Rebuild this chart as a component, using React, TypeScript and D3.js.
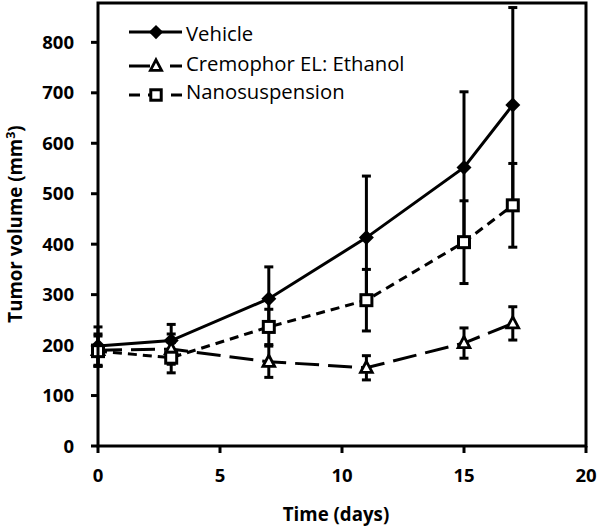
import React from "react";
import * as d3 from "d3";

const days = [0, 3, 7, 11, 15, 17];
const vehicle = [198, 209, 292, 413, 552, 676];
const vehicleErr = [38, 32, 63, 122, 150, 193];
const cremophor = [190, 192, 167, 155, 204, 243];
const cremophorErr = [32, 30, 31, 24, 30, 33];
const nano = [188, 175, 236, 289, 404, 477];
const nanoErr = [30, 30, 35, 61, 82, 83];
const xTicks = [0, 5, 10, 15, 20];
const yTicks = [0, 100, 200, 300, 400, 500, 600, 700, 800];
const seriesNames = ["Vehicle", "Cremophor EL: Ethanol", "Nanosuspension"];

const W = 600, H = 527;
const left = 98, right = 586, top = 3, bottom = 446;
const x = d3.scaleLinear().domain([0, 20]).range([left, right]);
const y = d3.scaleLinear().domain([0, 878]).range([bottom, top]);

const series = [
  { name: seriesNames[0], vals: vehicle, err: vehicleErr, dash: "none", marker: "diamond" },
  { name: seriesNames[1], vals: cremophor, err: cremophorErr, dash: "24,9", marker: "triangle" },
  { name: seriesNames[2], vals: nano, err: nanoErr, dash: "9,6", marker: "square" },
];

const font = "'Open Sans', sans-serif";

function Marker({ type, cx, cy, k = 1 }: { type: string; cx: number; cy: number; k?: number }) {
  if (type === "diamond") {
    const s = 7.5 * k;
    return <path d={`M${cx},${cy - s}L${cx + s},${cy}L${cx},${cy + s}L${cx - s},${cy}Z`} fill="#000" />;
  }
  if (type === "triangle") {
    const s = 6.5 * k;
    return <path d={`M${cx},${cy - s}L${cx + s * 0.9},${cy + s * 0.7}L${cx - s * 0.9},${cy + s * 0.7}Z`} fill="#fff" stroke="#000" strokeWidth={2.8} strokeLinejoin="miter" />;
  }
  const s = 5.5 * k;
  return <rect x={cx - s} y={cy - s} width={2 * s} height={2 * s} fill="#fff" stroke="#000" strokeWidth={3} />;
}

export default function App() {
  const line = d3.line<number>().x((_, i) => x(days[i])).y((v) => y(v));
  return (
    <svg width={W} height={H} style={{ position: "absolute", left: 0, top: 0, background: "#fff" }}>
      <rect x={0} y={0} width={W} height={H} fill="#fff" />
      {series.map((s, si) => (
        <g key={"e" + si}>
          {s.vals.map((v, i) => {
            const cx = x(days[i]);
            const y1 = y(v + s.err[i]);
            const y2 = y(v - s.err[i]);
            return (
              <g key={i} stroke="#000" strokeWidth={3}>
                <line x1={cx} x2={cx} y1={y1} y2={y2} />
                <line x1={cx - 4.5} x2={cx + 4.5} y1={y1} y2={y1} />
                <line x1={cx - 4.5} x2={cx + 4.5} y1={y2} y2={y2} />
              </g>
            );
          })}
        </g>
      ))}
      {series.map((s, si) => (
        <path key={"l" + si} d={line(s.vals) || ""} fill="none" stroke="#000" strokeWidth={3} strokeDasharray={s.dash} />
      ))}
      {series.map((s, si) => (
        <g key={"m" + si}>
          {s.vals.map((v, i) => (
            <Marker key={i} type={s.marker} cx={x(days[i])} cy={y(v)} />
          ))}
        </g>
      ))}
      <rect x={left} y={top} width={right - left} height={bottom - top} fill="none" stroke="#000" strokeWidth={3} />
      {yTicks.map((t) => (
        <g key={"y" + t}>
          <line x1={left - 7} x2={left} y1={y(t)} y2={y(t)} stroke="#000" strokeWidth={3} />
          <text x={74} y={y(t) + 6.6} textAnchor="end" fontFamily={font} fontWeight="bold" fontSize={18.5}>
            {t}
          </text>
        </g>
      ))}
      {xTicks.map((t) => (
        <g key={"x" + t}>
          <line x1={x(t)} x2={x(t)} y1={bottom} y2={bottom + 7} stroke="#000" strokeWidth={3} />
          <text x={x(t)} y={482} textAnchor="middle" fontFamily={font} fontWeight="bold" fontSize={18.5}>
            {t}
          </text>
        </g>
      ))}
      <text x={336} y={521} textAnchor="middle" fontFamily={font} fontWeight="bold" fontSize={18.7}>
        Time (days)
      </text>
      <text transform={`translate(22,${224}) rotate(-90)`} textAnchor="middle" fontFamily={font} fontWeight="bold" fontSize={18.7}>
        Tumor volume (mm<tspan dy={-7} fontSize={12.5}>3</tspan><tspan dy={7}>)</tspan>
      </text>
      {series.map((s, si) => {
        const ly = [32, 66, 95][si];
        const by = [40.5, 71, 99][si];
        return (
          <g key={"lg" + si}>
            {si === 0 && <line x1={129} x2={182} y1={ly} y2={ly} stroke="#000" strokeWidth={3} />}
            {si === 1 && (
              <g stroke="#000" strokeWidth={3}>
                <line x1={129} x2={150} y1={ly} y2={ly} />
                <line x1={170} x2={182} y1={ly} y2={ly} />
              </g>
            )}
            {si === 2 && (
              <g stroke="#000" strokeWidth={3}>
                <line x1={129} x2={140} y1={ly} y2={ly} />
                <line x1={140} x2={172} y1={ly} y2={ly} strokeDasharray="0,8,9,6" />
                <line x1={172} x2={182} y1={ly} y2={ly} />
              </g>
            )}
            <Marker type={s.marker} cx={156} cy={ly} k={0.95} />
            <text x={186} y={by} fontFamily={font} fontSize={20.3}>
              {s.name}
            </text>
          </g>
        );
      })}
    </svg>
  );
}
